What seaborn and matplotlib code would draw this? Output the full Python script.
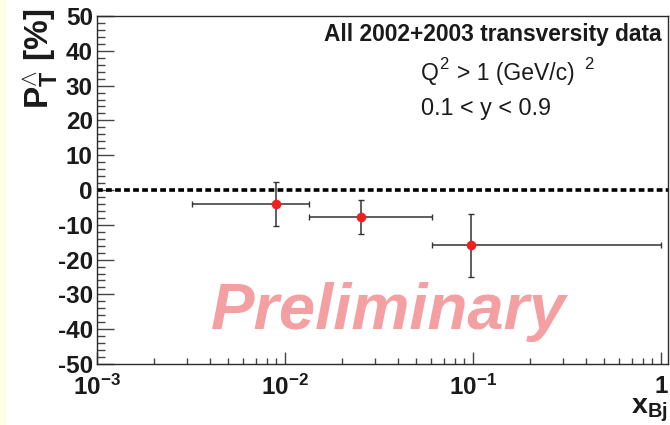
import numpy as np
import pandas as pd
import seaborn as sns
import matplotlib
matplotlib.use("Agg")
import matplotlib.pyplot as plt
from matplotlib.patches import Rectangle
from matplotlib.ticker import FixedLocator, NullFormatter, MultipleLocator

# Lambda transverse polarisation versus x_Bj
x_bin_center = [0.0090, 0.0253, 0.0972]
x_bin_low = [0.0032, 0.0134, 0.0605]
x_bin_high = [0.0134, 0.0605, 1.0]
polarisation = [-4.0, -7.8, -15.9]
pol_error = [6.4, 4.8, 9.0]

y_ticks = [-50, -40, -30, -20, -10, 0, 10, 20, 30, 40, 50]
x_ticks = [1e-3, 1e-2, 1e-1, 1.0]
x_tick_labels = [r"$\mathbf{10^{-3}}$", r"$\mathbf{10^{-2}}$",
                 r"$\mathbf{10^{-1}}$", r"$\mathbf{1}$"]

df = pd.DataFrame({"xbj": x_bin_center, "pol": polarisation})

sns.set_theme(style="ticks")
plt.rcParams["font.family"] = ["Liberation Sans", "DejaVu Sans"]
plt.rcParams["axes.unicode_minus"] = False
plt.rcParams["mathtext.fontset"] = "custom"
plt.rcParams["mathtext.rm"] = "Liberation Sans"
plt.rcParams["mathtext.it"] = "Liberation Sans:italic"
plt.rcParams["mathtext.bf"] = "Liberation Sans:bold"

W, H = 670, 425
fig = plt.figure(figsize=(W / 100, H / 100), dpi=100)
fig.patch.set_facecolor("white")
fig.patches.append(Rectangle((0, 0), 6 / W, 1, transform=fig.transFigure,
                             facecolor="#fffde6", edgecolor="none", zorder=0))


def fx(px):
    return px / W


def fy(py):
    return 1 - py / H


left, right, top, bottom = 97, 668, 16, 364
ax = fig.add_axes([fx(left), fy(bottom), (right - left) / W, (bottom - top) / H])
ax.set_xscale("log")
ax.set_xlim(1e-3, 1.089)
ax.set_ylim(-50, 50)

frame_col = "#2a2a2a"
for side in ["left", "bottom", "right", "top"]:
    ax.spines[side].set_visible(True)
    ax.spines[side].set_color(frame_col)
    ax.spines[side].set_linewidth(1.0)

# zero line
ax.axhline(0, color="black", lw=2.6, ls=(0, (1.6, 0.9)), zorder=2)

# error bars spanning each bin
xerr = [np.array(x_bin_center) - np.array(x_bin_low),
        np.array(x_bin_high) - np.array(x_bin_center)]
ax.errorbar(x_bin_center, polarisation, xerr=xerr, yerr=pol_error,
            fmt="none", ecolor="#333333", elinewidth=1.1, capsize=2.0,
            capthick=1.0, zorder=3)
sns.scatterplot(data=df, x="xbj", y="pol", ax=ax, color="#ee2020", s=48,
                edgecolor="#ee2020", linewidth=0, zorder=4, legend=False)
ax.set_xlabel("")
ax.set_ylabel("")

# ticks
ax.yaxis.set_major_locator(FixedLocator(y_ticks))
ax.yaxis.set_minor_locator(MultipleLocator(2))
ax.set_yticklabels([str(v) for v in y_ticks])
ax.xaxis.set_major_locator(FixedLocator(x_ticks))
minor = [m * 10.0 ** e for e in (-3, -2, -1) for m in range(2, 10)]
ax.xaxis.set_minor_locator(FixedLocator(minor))
ax.xaxis.set_minor_formatter(NullFormatter())
ax.set_xticklabels(x_tick_labels)

ax.tick_params(axis="y", which="major", direction="in", length=12.5, width=1.0,
               color="#444444", pad=3, labelsize=17.5)
ax.tick_params(axis="y", which="minor", direction="in", length=6, width=1.0,
               color="#444444")
ax.tick_params(axis="x", which="major", direction="in", length=8.5, width=1.0,
               color="#444444", pad=8, labelsize=17.5)
ax.tick_params(axis="x", which="minor", direction="in", length=4.3, width=1.0,
               color="#444444")
for lab in ax.get_yticklabels() + ax.get_xticklabels():
    lab.set_fontweight("bold")
    lab.set_color("#1a1a1a")

# axis titles
fig.text(fx(40), fy(9), r"$\mathbf{P}_{\mathbf{T}}^{\wedge}$ [%]",
         rotation=90, ha="center", va="top", fontsize=24, fontweight="bold",
         color="#1a1a1a")
fig.text(fx(668), fy(424.5), r"$\mathbf{x}_{\mathbf{Bj}}$", ha="right",
         va="bottom", fontsize=20.5, color="#1a1a1a")

# selection info
txt_col = "#1a1a1a"
fig.text(fx(662), fy(34), "All 2002+2003 transversity data", ha="right",
         va="center", fontsize=16.4, fontweight="bold", color=txt_col)
fig.text(fx(421), fy(80), "Q", ha="left", va="baseline", fontsize=16.5,
         color=txt_col)
fig.text(fx(439), fy(69), "2", ha="left", va="baseline", fontsize=12,
         color=txt_col)
fig.text(fx(457), fy(80), "> 1 (GeV/c)", ha="left", va="baseline",
         fontsize=16.5, color=txt_col)
fig.text(fx(584), fy(69), "2", ha="left", va="baseline", fontsize=12,
         color=txt_col)
fig.text(fx(421), fy(108), "0.1 < y < 0.9", ha="left", va="center",
         fontsize=16.8, color=txt_col)

fig.text(fx(388), fy(312), "Preliminary", ha="center", va="center",
         fontsize=47, fontweight="bold", fontstyle="italic", color="#f4a0a2")

fig.savefig("out.png", dpi=100)
